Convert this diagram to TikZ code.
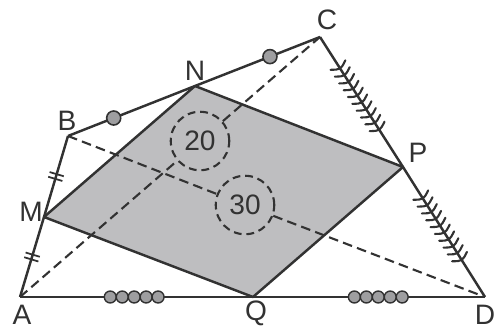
\documentclass[tikz,border=0pt]{standalone}
\usepackage{fontspec}
\setmainfont{Liberation Sans}
\usetikzlibrary{decorations.markings, calc}
\definecolor{inkgray}{RGB}{50,50,50}
\definecolor{shadegray}{RGB}{190,190,192}
\definecolor{beadgray}{RGB}{158,158,160}

\begin{document}
\begin{tikzpicture}[x=0.02cm, y=-0.02cm, line join=round,
  edge/.style={draw=inkgray, line width=1.4pt},
  diag/.style={draw=inkgray, line width=1.2pt, dash pattern=on 5.5pt off 3pt},
  ring/.style={circle, draw=inkgray, line width=1.2pt, dash pattern=on 4.4pt off 2.8pt, minimum size=1.17cm, inner sep=0pt, font=\fontsize{16}{18}\selectfont, text=inkgray},
  lbl/.style={font=\fontsize{16}{18}\selectfont, text=inkgray, inner sep=0pt},
  hashes/.style={postaction={decorate}, decoration={markings, mark=at position 0.5 with {\draw[inkgray, line width=1pt] (-1.4pt,-4.2pt) -- (-1.4pt,4.2pt) (1.4pt,-4.2pt) -- (1.4pt,4.2pt);}}},
  springs/.style={postaction={decorate}, decoration={markings, mark=between positions 0.23 and 0.71 step 4.6pt with {\draw[inkgray, line width=1.2pt, line cap=round] (-1.2pt,-5pt) .. controls (1.8pt,0pt) .. (-1.2pt,5pt);}}},
  dotat/.style={postaction={decorate}, decoration={markings, mark=at position #1 with {\draw[inkgray, fill=beadgray, line width=0.9pt] (0,0) circle (4pt);}}},
  beadsat/.style={postaction={decorate}, decoration={markings, mark=at position #1 with {\foreach \k in {-2,...,2} \draw[inkgray, fill=beadgray, line width=0.8pt] (\k*6.8pt,0) circle (3.4pt);}}}
]
  \clip (0,0) rectangle (496,330);

  % corners and midpoints
  \coordinate (A) at (20,297);
  \coordinate (B) at (68,136);
  \coordinate (C) at (320,37);
  \coordinate (D) at (485,297);
  \coordinate (M) at (44,217);
  \coordinate (N) at (195,86);
  \coordinate (P) at (403,167);
  \coordinate (Q) at (253,297);

  % shaded quadrilateral
  \fill[shadegray] (M) -- (N) -- (P) -- (Q) -- cycle;

  % diagonals with rings
  \node[ring] (r20) at (200,141) {20};
  \node[ring] (r30) at (245,205) {30};
  \draw[diag] (A) -- (r20);
  \draw[diag] (r20) -- (C);
  \draw[diag] (B) -- (r30);
  \draw[diag] (r30) -- (D);

  \draw[edge] (M) -- (N) -- (P) -- (Q) -- cycle;

  % outer sides
  \draw[edge, hashes] (A) -- (M);
  \draw[edge, hashes] (M) -- (B);
  \draw[edge, dotat=0.36] (B) -- (N);
  \draw[edge, dotat=0.6] (N) -- (C);
  \draw[edge, springs] (C) -- (P);
  \draw[edge, springs] (P) -- (D);
  \draw[edge, beadsat=0.49] (A) -- (Q);
  \draw[edge, beadsat=0.54] (Q) -- (D);

  % labels
  \node[lbl] (lA) at (22,315) {A};
  \node[lbl] (lB) at (67,121) {B};
  \node[lbl] (lC) at (327,20) {C};
  \node[lbl] (lD) at (485,315) {D};
  \node[lbl] (lM) at (31,212) {M};
  \node[lbl] (lN) at (195,71) {N};
  \node[lbl] (lP) at (418,153) {P};
  \node[lbl] (lQ) at (256,313) {Q};
\end{tikzpicture}
\end{document}
